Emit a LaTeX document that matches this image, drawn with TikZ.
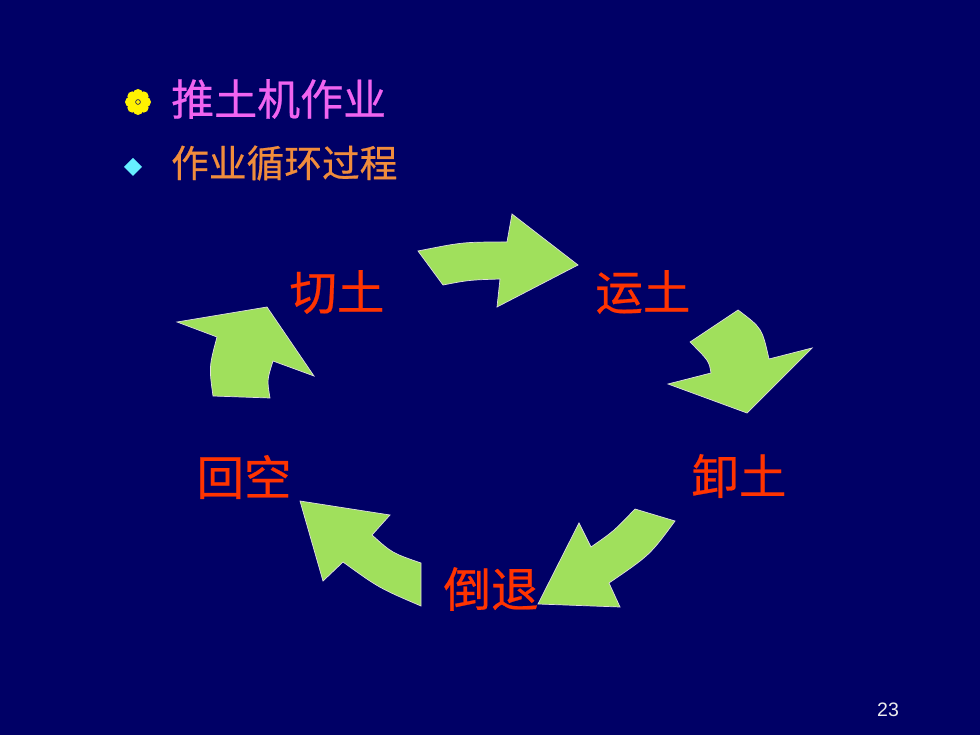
\documentclass[tikz,border=0pt]{standalone}
\usepackage{fontspec}
\setsansfont{Liberation Sans}
\newfontfamily\cjk[FakeBold=0.5]{Noto Sans CJK SC}
\usetikzlibrary{calc}
\definecolor{slidebg}{RGB}{0,0,102}
\definecolor{arrowgreen}{RGB}{160,224,92}
\definecolor{labelred}{RGB}{255,51,0}
\definecolor{titlepink}{RGB}{240,100,240}
\definecolor{suborange}{RGB}{240,140,60}
\definecolor{bulletcyan}{RGB}{102,238,255}

\begin{document}
\begin{tikzpicture}[x=1pt,y=-1pt,
	blockarrow/.style={fill=arrowgreen,draw=gray!25,line width=0.7pt,line join=miter},
	steplabel/.style={text=labelred,inner sep=0pt,font=\cjk\fontsize{47.5}{48}\selectfont}]

			\fill[slidebg] (0,0) rectangle (980,735);
			\useasboundingbox (0,0) rectangle (980,735);

			% bullets
			\foreach \a in {0,45,...,315}
				\fill[yellow] ($(138,102)+(\a:8)$) circle[radius=5];
			\fill[yellow] (138,102) circle[radius=8];
			\draw[slidebg,line width=0.6pt] (138,102) circle[radius=2.4];
			\fill[bulletcyan] (133,158) -- (142,167) -- (133,176) -- (124,167) -- cycle;

			\node[anchor=west,inner sep=0pt,text=titlepink,font=\cjk\fontsize{43}{44}\selectfont] (title) at (171,99) {推土机作业};
			\node[anchor=west,inner sep=0pt,text=suborange,font=\cjk\fontsize{37.7}{38}\selectfont] (subtitle) at (171,163) {作业循环过程};

			% the five steps
			\node[steplabel] (qietu) at (337,292) {切土};
			\node[steplabel] (yuntu) at (643,292) {运土};
			\node[steplabel] (xietu) at (739,476) {卸土};
			\node[steplabel] (daotui) at (491,589) {倒退};
			\node[steplabel] (huikong) at (244,477) {回空};

			% curved arrows between them
			\draw[blockarrow] (418,251) .. controls (463,242) .. (507,242) -- (512,214) -- (578,265)
				-- (497,307) -- (500,279) .. controls (469,280) .. (443,285) -- cycle;
			\draw[blockarrow] (738,310) .. controls (762,328) .. (769,359) -- (812,348) -- (747,413)
				-- (668,384) -- (711,373) .. controls (709,361) .. (690,342) -- cycle;
			\draw[blockarrow] (675,521) .. controls (650,555) .. (609,583) -- (620,607) -- (538,604)
				-- (579,523) -- (591,547) .. controls (614,531) .. (635,509) -- cycle;
			\draw[blockarrow] (421,606) .. controls (379,588) .. (343,562) -- (323,581) -- (300,501)
				-- (390,515) -- (372,535) .. controls (392,553) .. (421,563) -- cycle;
			\draw[blockarrow] (213,396) -- (270,398) .. controls (267,380) .. (273,361) -- (314,376)
				-- (267,307) -- (177,322) -- (217,337) .. controls (209,367) .. (213,396) -- cycle;

			\node[text=gray!15,inner sep=0pt,font=\sffamily\fontsize{19.5}{20}\selectfont] (pageno) at (888,710) {23};

		\end{tikzpicture}
\end{document}
